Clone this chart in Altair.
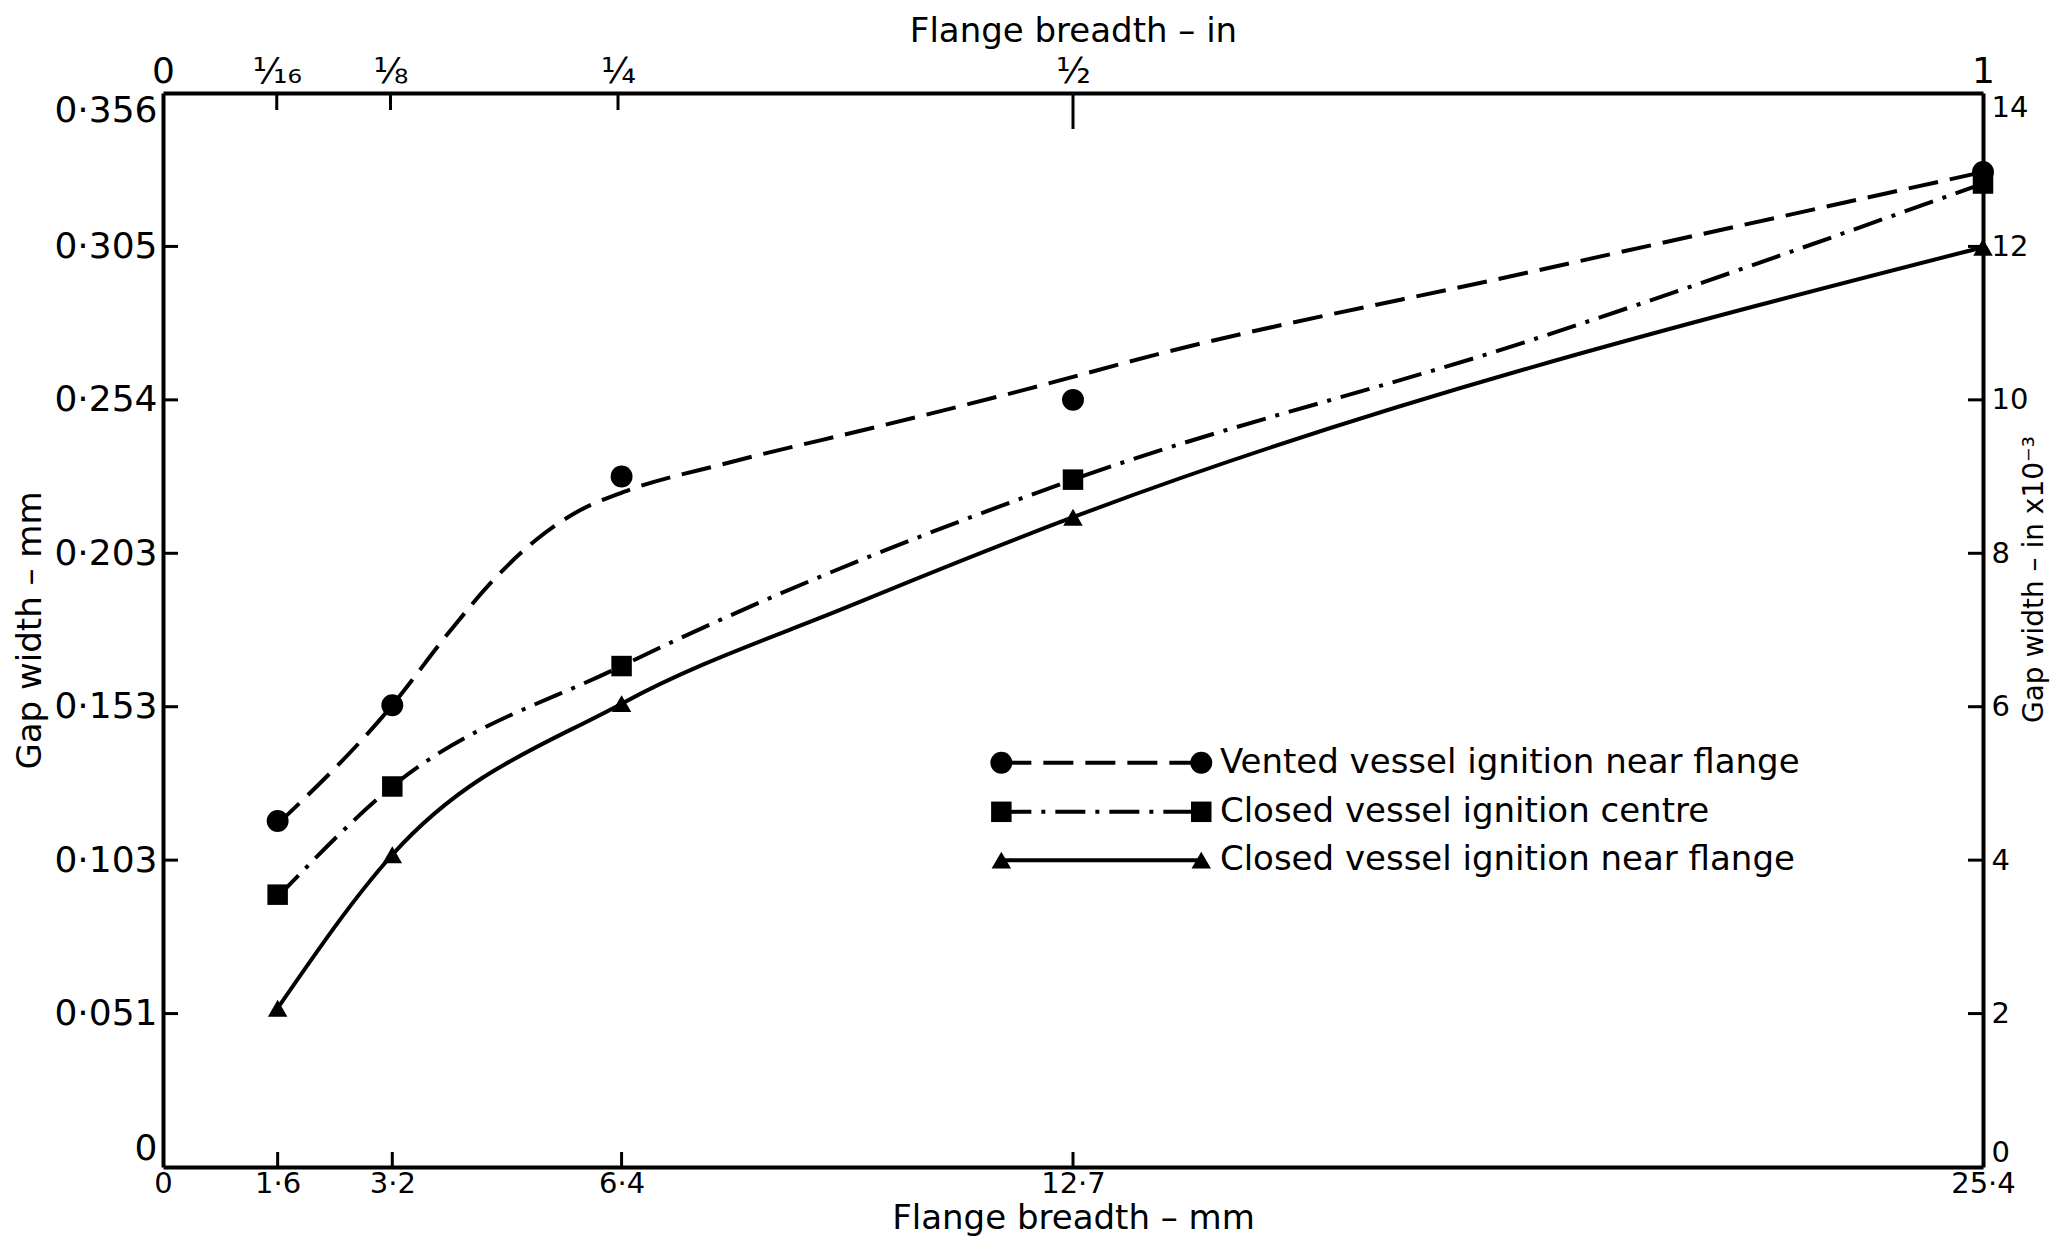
import json
import altair as alt
import pandas as pd

W, H = 1820, 1074
FONT = "DejaVu Sans"

# ---------------- data ----------------
mm_tick_values = [0, 1.6, 3.2, 6.4, 12.7, 25.4]
mm_tick_labels = ["0", "1·6", "3·2", "6·4", "12·7", "25·4"]
inch_tick_values = [0, 0.0625, 0.125, 0.25, 0.5, 1.0]
inch_tick_labels = ["0", "¹⁄₁₆", "⅛", "¼", "½", "1"]
gap_in_values = [0, 2, 4, 6, 8, 10, 12, 14]
gap_mm_labels = ["0", "0·051", "0·103", "0·153", "0·203", "0·254", "0·305", "0·356"]

series_names = [
    "Vented vessel ignition near flange",
    "Closed vessel ignition centre",
    "Closed vessel ignition near flange",
]

# flange breadth (mm) / gap width (in x 10^-3)
vented_pts_x = [1.6, 3.2, 6.4, 12.7, 25.4]
vented_pts_y = [4.51, 6.02, 9.0, 10.0, 12.97]
vented_curve_x = [1.6, 3.2, 4.0, 4.6, 5.2, 5.8, 6.43, 7.89, 9.97, 12.06, 13.86, 19.0, 25.4]
vented_curve_y = [4.47, 6.02, 6.98, 7.64, 8.17, 8.55, 8.80, 9.18, 9.65, 10.14, 10.59, 11.65, 12.97]

centre_pts_x = [1.6, 3.2, 6.4, 12.7, 25.4]
centre_pts_y = [3.55, 4.96, 6.53, 8.96, 12.82]
centre_curve_x = [1.6, 3.2, 6.4, 12.7, 19.0, 25.4]
centre_curve_y = [3.52, 4.96, 6.53, 8.96, 10.75, 12.82]

flange_pts_x = [1.6, 3.2, 6.4, 12.7, 25.4]
flange_pts_y = [2.07, 4.07, 6.04, 8.47, 11.99]
flange_curve_x = [1.6, 3.2, 6.4, 9.63, 12.7, 25.4]
flange_curve_y = [2.07, 4.07, 6.04, 7.33, 8.47, 11.99]

# inner tick positions
bottom_inner_ticks = [1.6, 3.2, 6.4, 12.7]
top_inner_ticks_in = [0.0625, 0.125, 0.25]
top_long_tick_in = [0.5]
side_inner_ticks = [2, 4, 6, 8, 10, 12]

# legend placement (data coordinates)
legend_x0, legend_x1, legend_text_x = 11.70, 14.49, 14.75
legend_rows_y = [5.27, 4.63, 4.00]

# ---------------- scales ----------------
xs = alt.Scale(domain=[0, 25.4], nice=False, zero=False)
ys = alt.Scale(domain=[0, 14], nice=False, zero=False)

top_tick_mm = [v * 25.4 for v in inch_tick_values]
top_expr = "{}[indexof({}, datum.value)]".format(
    json.dumps(inch_tick_labels, ensure_ascii=False), json.dumps(top_tick_mm))
bottom_expr = "{}[indexof({}, datum.value)]".format(
    json.dumps(mm_tick_labels, ensure_ascii=False), json.dumps(mm_tick_values))
left_expr = "{}[round(datum.value / 2)]".format(json.dumps(gap_mm_labels, ensure_ascii=False))

common_axis = dict(ticks=False, grid=False, domainColor="black", domainWidth=4,
                   labelColor="black", titleColor="black", labelFont=FONT, titleFont=FONT,
                   titleFontWeight="normal")

bottom_axis = alt.Axis(orient="bottom", values=mm_tick_values, labelExpr=bottom_expr,
                       labelFlush=False, labelFontSize=29, titleFontSize=34,
                       title="Flange  breadth – mm", labelPadding=2, titlePadding=3,
                       **common_axis)
top_axis = alt.Axis(orient="top", values=top_tick_mm, labelExpr=top_expr,
                    labelFlush=False, labelFontSize=36, titleFontSize=34,
                    title="Flange breadth – in", labelPadding=3, titlePadding=5,
                    **common_axis)
left_axis = alt.Axis(orient="left", values=gap_in_values, labelExpr=left_expr,
                     labelFlush=True, labelFontSize=36, titleFontSize=34,
                     title="Gap width – mm", labelPadding=6, titlePadding=6, **common_axis)
right_axis = alt.Axis(orient="right", values=gap_in_values, labelFlush=True,
                      labelFontSize=29, titleFontSize=28,
                      title="Gap width – in x10⁻³", titleAngle=270,
                      titleBaseline="top", titleY=486, labelPadding=8,
                      titlePadding=-7, **common_axis)

anchor = pd.DataFrame({"x": [0], "y": [0]})
axes_bl = alt.Chart(anchor).mark_point(opacity=0).encode(
    x=alt.X("x:Q", scale=xs, axis=bottom_axis),
    y=alt.Y("y:Q", scale=ys, axis=left_axis))
axes_tr = alt.Chart(anchor).mark_point(opacity=0).encode(
    x=alt.X("x:Q", scale=xs, axis=top_axis),
    y=alt.Y("y:Q", scale=ys, axis=right_axis))

TW = 3
bottom_ticks = alt.Chart(pd.DataFrame({"x": bottom_inner_ticks})).mark_rule(
    color="black", strokeWidth=TW).encode(
    x=alt.X("x:Q", scale=xs, axis=None), y=alt.value(H), y2=alt.value(H - 15))
top_ticks = alt.Chart(pd.DataFrame({"x": [v * 25.4 for v in top_inner_ticks_in]})).mark_rule(
    color="black", strokeWidth=TW).encode(
    x=alt.X("x:Q", scale=xs, axis=None), y=alt.value(0), y2=alt.value(17))
top_long_ticks = alt.Chart(pd.DataFrame({"x": [v * 25.4 for v in top_long_tick_in]})).mark_rule(
    color="black", strokeWidth=TW).encode(
    x=alt.X("x:Q", scale=xs, axis=None), y=alt.value(0), y2=alt.value(36))
left_ticks = alt.Chart(pd.DataFrame({"y": side_inner_ticks})).mark_rule(
    color="black", strokeWidth=TW).encode(
    y=alt.Y("y:Q", scale=ys, axis=None), x=alt.value(0), x2=alt.value(15))
right_ticks = alt.Chart(pd.DataFrame({"y": side_inner_ticks})).mark_rule(
    color="black", strokeWidth=TW).encode(
    y=alt.Y("y:Q", scale=ys, axis=None), x=alt.value(W), x2=alt.value(W - 15))


def series_layers(curve_x, curve_y, pts_x, pts_y, dash, shape, size, row_y, name):
    line_kw = dict(color="black", strokeWidth=4, interpolate="monotone")
    if dash:
        line_kw["strokeDash"] = dash
    enc_x = alt.X("x:Q", scale=xs, axis=None)
    enc_y = alt.Y("y:Q", scale=ys, axis=None)
    curve = alt.Chart(pd.DataFrame({"x": curve_x, "y": curve_y})).mark_line(**line_kw).encode(
        x=enc_x, y=enc_y)
    pts = alt.Chart(pd.DataFrame({"x": pts_x, "y": pts_y})).mark_point(
        shape=shape, filled=True, color="black", opacity=1, size=size).encode(x=enc_x, y=enc_y)
    lkw = dict(line_kw)
    lkw["interpolate"] = "linear"
    leg_df = pd.DataFrame({"x": [legend_x0, legend_x1], "y": [row_y, row_y]})
    leg_line = alt.Chart(leg_df).mark_line(**lkw).encode(x=enc_x, y=enc_y)
    leg_pts = alt.Chart(leg_df).mark_point(
        shape=shape, filled=True, color="black", opacity=1, size=size).encode(x=enc_x, y=enc_y)
    leg_txt = alt.Chart(pd.DataFrame({"x": [legend_text_x], "y": [row_y], "t": [name]})).mark_text(
        align="left", baseline="middle", font=FONT, fontSize=34, color="black").encode(
        x=enc_x, y=enc_y, text="t:N")
    return [curve, pts, leg_line, leg_pts, leg_txt]


layers = [axes_bl, axes_tr, bottom_ticks, top_ticks, top_long_ticks, left_ticks, right_ticks]
layers += series_layers(vented_curve_x, vented_curve_y, vented_pts_x, vented_pts_y,
                        [30, 12], "circle", 480, legend_rows_y[0], series_names[0])
layers += series_layers(centre_curve_x, centre_curve_y, centre_pts_x, centre_pts_y,
                        [30, 10, 4, 10], "square", 420, legend_rows_y[1], series_names[1])
layers += series_layers(flange_curve_x, flange_curve_y, flange_pts_x, flange_pts_y,
                        None, "triangle-up", 380, legend_rows_y[2], series_names[2])

chart = alt.layer(*layers).resolve_axis(x="independent", y="independent").properties(
    width=W, height=H,
    autosize=alt.AutoSizeParams(type="none"),
    padding={"left": 155, "top": 85, "right": 72, "bottom": 71},
    background="white",
).configure_view(stroke=None)

chart.save("out.html", embed_options={"renderer": "svg", "actions": False})
